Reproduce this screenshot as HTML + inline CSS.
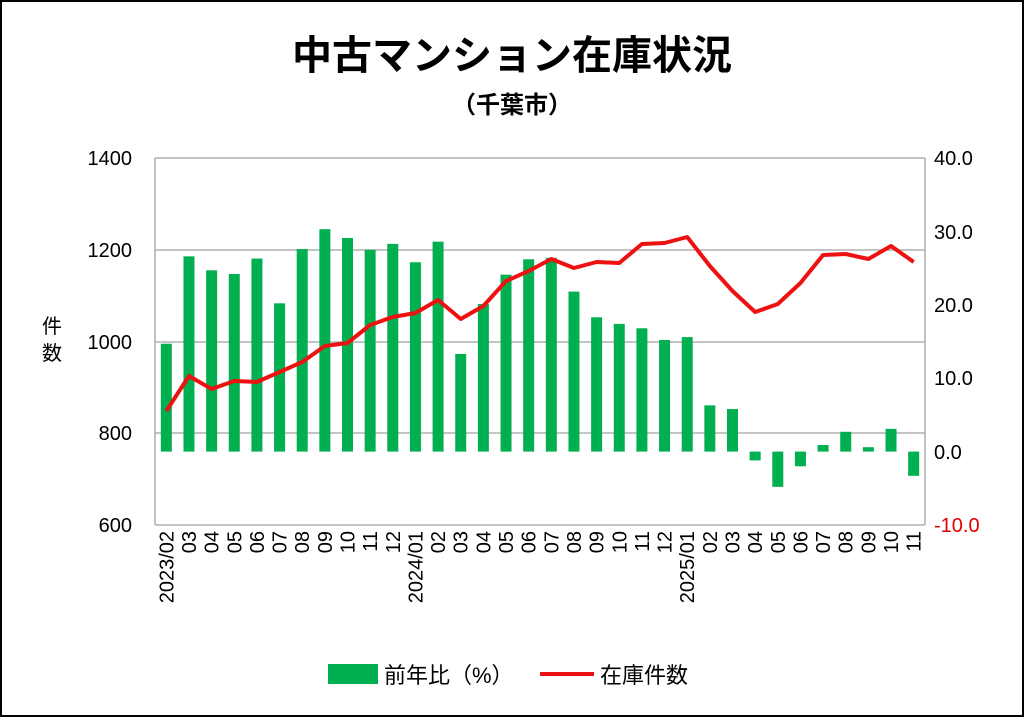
<!DOCTYPE html>
<html><head><meta charset="utf-8"><style>
body{margin:0;background:#fff}
svg text{font-family:"Liberation Sans","Noto Sans CJK JP",sans-serif}
</style></head><body>
<svg width="1024" height="717" xmlns="http://www.w3.org/2000/svg">
<rect x="1" y="1" width="1022" height="715" fill="#fff" stroke="#000" stroke-width="2"/>
<text x="512" y="69" font-size="40" font-weight="bold" text-anchor="middle">中古マンション在庫状況</text>
<text x="512" y="113" font-size="24" font-weight="bold" text-anchor="middle">（千葉市）</text>
<g stroke="#a0a0a0" stroke-width="1.3">
<line x1="155" y1="158" x2="925" y2="158"/>
<line x1="155" y1="250" x2="925" y2="250"/>
<line x1="155" y1="342" x2="925" y2="342"/>
<line x1="155" y1="433" x2="925" y2="433"/>
<line x1="155" y1="525" x2="925" y2="525"/>
<line x1="155" y1="158" x2="155" y2="525"/>
<line x1="925" y1="158" x2="925" y2="525"/>
</g>
<g font-size="20" text-anchor="end">
<text x="132" y="165">1400</text><text x="132" y="257">1200</text><text x="132" y="349">1000</text><text x="132" y="440">800</text><text x="132" y="532">600</text>
</g>
<g font-size="20" text-anchor="start">
<text x="934" y="165">40.0</text><text x="934" y="239">30.0</text><text x="934" y="312">20.0</text><text x="934" y="385">10.0</text><text x="934" y="459">0.0</text><text x="934" y="532" fill="#e00000">-10.0</text>
</g>
<text x="52" y="333" font-size="20" text-anchor="middle">件</text>
<text x="52" y="360" font-size="20" text-anchor="middle">数</text>
<g id="bars" fill="#00b050"></g>
<polyline id="ln" fill="none" stroke="#ee1111" stroke-width="4" stroke-linejoin="round"/>
<g id="xl" font-size="20"></g>
<rect x="328" y="664" width="50" height="20" fill="#00b050"/>
<text x="384" y="683" font-size="22">前年比（%）</text>
<line x1="540" y1="674" x2="594" y2="674" stroke="#ee1111" stroke-width="4"/>
<text x="600" y="683" font-size="22">在庫件数</text>
</svg>
<script>
var b=[14.7,26.6,24.7,24.2,26.3,20.2,27.6,30.3,29.1,27.5,28.3,25.8,28.6,13.3,20.1,24.1,26.2,26.4,21.8,18.3,17.4,16.8,15.2,15.6,6.3,5.8,-1.2,-4.8,-2,0.9,2.7,0.6,3.1,-3.3];
var l=[411,376,389,381,382,372,362,346,343,325,317,313,300,319,306,281,271,259,268,262,263,244,243,237,266,291,312,304,283,255,254,259,246,262];
var labs=["2023/02","03","04","05","06","07","08","09","10","11","12","2024/01","02","03","04","05","06","07","08","09","10","11","12","2025/01","02","03","04","05","06","07","08","09","10","11"];
var ns="http://www.w3.org/2000/svg",z=451.6,w=770/34,g=document.getElementById("bars"),x=document.getElementById("xl"),pts=[];
for(var i=0;i<34;i++){var c=155+w*(i+0.5);var y=z-b[i]*7.34;var r=document.createElementNS(ns,"rect");
r.setAttribute("x",c-5.5);r.setAttribute("width",11);r.setAttribute("y",Math.min(y,z));r.setAttribute("height",Math.abs(z-y));g.appendChild(r);
pts.push(c+","+l[i]);
var t=document.createElementNS(ns,"text");t.setAttribute("transform","translate("+(c+7)+",531) rotate(-90)");t.setAttribute("text-anchor","end");t.textContent=labs[i];x.appendChild(t);}
document.getElementById("ln").setAttribute("points",pts.join(" "));
</script>
</body></html>
